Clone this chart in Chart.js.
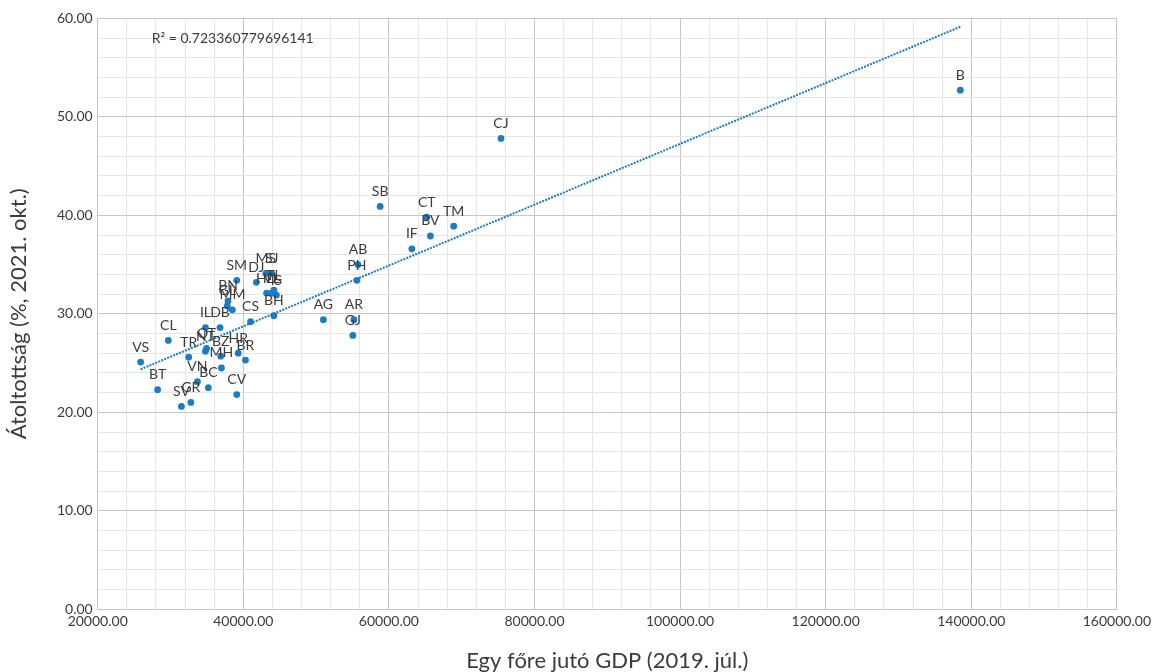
<!DOCTYPE html>
<html>
<head>
<meta charset="utf-8">
<script src="https://cdn.jsdelivr.net/npm/chart.js@4.4.1/dist/chart.umd.min.js"></script>
<style>
  html, body { margin: 0; padding: 0; background: #ffffff; }
  #wrap { width: 1155px; height: 672px; }
</style>
</head>
<body>
<div id="wrap"><canvas id="chart" width="1155" height="672"></canvas></div>
<script>
// County codes, GDP per capita (2019 July) and vaccination rate (% , 2021 Oct)
const counties = ['VS','CL','BT','SV','GR','TR','OT','NT','IL','DB','BZ','MH','VN','BC','CV','HR','BR','CS','BN','GL','MM','SM','DJ','MS','SJ','HD','VL','TL','IS','BH','AG','AR','GJ','AB','PH','SB','IF','CT','BV','TM','CJ','B'];
const gdp = [25900, 29700, 28230, 31500, 32800, 32500, 34950, 34800, 34800, 36800, 36900, 37000, 33700, 35200, 39100, 39300, 40300, 41000, 37900, 37800, 38500, 39100, 41800, 43100, 43900, 43200, 43900, 44200, 44550, 44200, 51000, 55200, 55050, 55750, 55600, 58800, 63150, 65200, 65700, 68900, 75400, 138500];
const vaccination = [25.1, 27.3, 22.3, 20.6, 21.0, 25.6, 26.5, 26.2, 28.6, 28.6, 25.7, 24.5, 23.1, 22.5, 21.8, 26.0, 25.3, 29.2, 31.3, 30.8, 30.4, 33.4, 33.2, 34.1, 34.1, 32.1, 32.1, 32.4, 31.9, 29.8, 29.4, 29.4, 27.8, 35.0, 33.4, 40.9, 36.6, 39.8, 37.9, 38.9, 47.8, 52.7];
const r2Text = 'R² = 0.723360779696141';

const xTitle = 'Egy főre jutó GDP (2019. júl.)';
const yTitle = 'Átoltottság (%, 2021. okt.)';

// Least-squares linear trend over the points
const n = gdp.length;
const mx = gdp.reduce((a, b) => a + b, 0) / n;
const my = vaccination.reduce((a, b) => a + b, 0) / n;
let sxy = 0, sxx = 0;
for (let i = 0; i < n; i++) {
  sxy += (gdp[i] - mx) * (vaccination[i] - my);
  sxx += (gdp[i] - mx) * (gdp[i] - mx);
}
const slope = sxy / sxx;
const intercept = my - slope * mx;
const xMin = Math.min(...gdp), xMax = Math.max(...gdp);
const trend = [
  { x: xMin, y: intercept + slope * xMin },
  { x: xMax, y: intercept + slope * xMax }
];

const BLUE = '#1b7cc6';
const MAJOR = '#c6c6c6';
const MINOR = '#e6e6e6';
const TEXT = '#3b3b3b';

const isMultiple = (v, m) => Math.abs(v / m - Math.round(v / m)) < 1e-6;

const pointLabels = {
  id: 'pointLabels',
  afterDatasetsDraw(chart) {
    const ctx = chart.ctx;
    const meta = chart.getDatasetMeta(0);
    ctx.save();
    ctx.font = '14px Lato';
    ctx.fillStyle = TEXT;
    ctx.textAlign = 'center';
    ctx.textBaseline = 'alphabetic';
    meta.data.forEach((el, i) => {
      ctx.fillText(counties[i], el.x, el.y - 10.5);
    });
    // R² annotation in the upper-left of the plot
    const area = chart.chartArea;
    ctx.textAlign = 'left';
    ctx.fillText(r2Text, area.left + 54, area.top + 25);
    ctx.restore();
  }
};

new Chart(document.getElementById('chart'), {
  type: 'scatter',
  data: {
    datasets: [
      {
        label: 'Megyék',
        data: gdp.map((g, i) => ({ x: g, y: vaccination[i] })),
        backgroundColor: BLUE,
        borderColor: BLUE,
        pointRadius: 3.4,
        pointHoverRadius: 3.4,
        borderWidth: 0
      },
      {
        label: 'Trend',
        type: 'line',
        data: trend,
        borderColor: BLUE,
        borderWidth: 2,
        borderDash: [2, 1.2],
        pointRadius: 0,
        fill: false
      }
    ]
  },
  options: {
    responsive: false,
    animation: false,
    events: [],
    layout: { padding: { top: 18.3, right: 36.7, bottom: 0, left: 0 } },
    plugins: {
      legend: { display: false },
      tooltip: { enabled: false }
    },
    scales: {
      x: {
        type: 'linear',
        min: 20000,
        max: 160000,
        afterFit(scale) { scale.height = 62.7; },
        ticks: {
          stepSize: 4000,
          maxTicksLimit: 100,
          autoSkip: false,
          maxRotation: 0,
          padding: 4,
          color: TEXT,
          font: { family: 'Lato', size: 14 },
          callback: v => isMultiple(v, 20000) ? v.toFixed(2) : ''
        },
        grid: {
          drawTicks: false,
          color: c => (c.tick && isMultiple(c.tick.value, 20000)) ? MAJOR : MINOR,
          lineWidth: 1
        },
        border: { color: MAJOR, width: 1 },
        title: {
          display: true,
          text: xTitle,
          color: TEXT,
          font: { family: 'Lato', size: 22, lineHeight: 1 },
          padding: { top: 0, bottom: 0 }
        }
      },
      y: {
        type: 'linear',
        min: 0,
        max: 60,
        afterFit(scale) { scale.width = 97.7; },
        ticks: {
          stepSize: 2,
          maxTicksLimit: 100,
          autoSkip: false,
          padding: 5,
          color: TEXT,
          font: { family: 'Lato', size: 14 },
          callback: v => isMultiple(v, 10) ? v.toFixed(2) : ''
        },
        grid: {
          drawTicks: false,
          color: c => (c.tick && isMultiple(c.tick.value, 10)) ? MAJOR : MINOR,
          lineWidth: 1
        },
        border: { color: MAJOR, width: 1 },
        title: {
          display: true,
          text: yTitle,
          color: TEXT,
          font: { family: 'Lato', size: 22, lineHeight: 1 },
          padding: { top: 8, bottom: 0 }
        }
      }
    }
  },
  plugins: [pointLabels]
});
</script>
</body>
</html>
